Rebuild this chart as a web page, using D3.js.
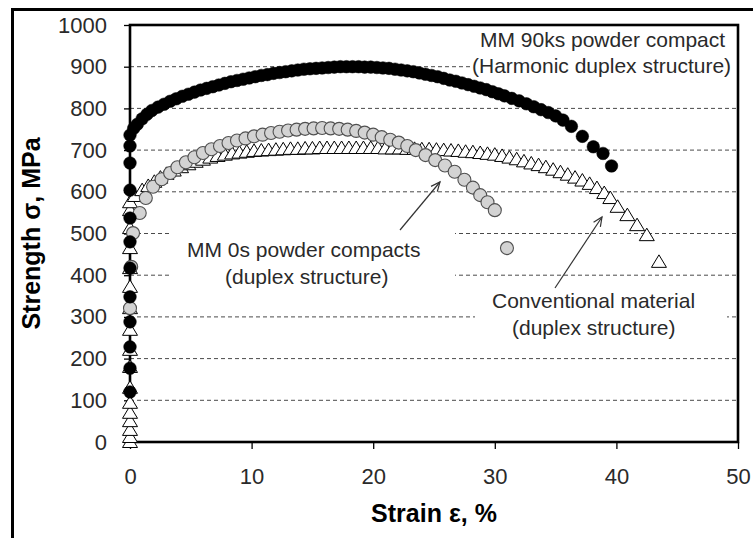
<!DOCTYPE html>
<html><head><meta charset="utf-8">
<script src="https://cdn.jsdelivr.net/npm/d3@7/dist/d3.min.js"></script>
<style>html,body{margin:0;padding:0;background:#fff}svg{display:block}</style>
</head><body>
<script>
// ---- data (strain %, stress MPa) ----
const xTicks = [0, 10, 20, 30, 40, 50];
const yTicks = [0, 100, 200, 300, 400, 500, 600, 700, 800, 900, 1000];

const mm90Strain = [0,0,0,0,0,0,0,0,0,0,0,0,
 0.3,0.6,1.0,1.4,1.8,2.3,2.8,3.3,3.8,4.3,4.8,5.3,5.8,6.3,6.8,7.3,7.8,8.3,8.8,9.3,9.8,10.3,10.8,11.3,11.8,12.3,12.8,13.3,13.8,14.3,14.8,15.3,15.8,16.3,16.8,17.3,17.8,18.3,18.8,19.3,19.8,20.3,20.8,21.3,21.8,22.3,22.8,23.3,23.8,24.3,24.8,25.3,25.8,26.3,26.8,27.3,27.8,28.3,28.8,29.3,29.8,30.3,30.8,
 31.4,32.0,32.6,33.2,33.8,34.4,35.0,35.6,36.3,37.2,38.1,38.9,39.6];
const mm90Stress = [120,177,228,288,348,417,480,537,604,669,710,736,
 752,762,775,786,795,803,810,817,823,829,834,839,844,848,852,856,860,864,867,870,873,876,879,881,884,886,888,890,892,894,895,896,897,898,899,900,900,900,900,899,899,898,897,896,894,892,890,888,885,882,879,876,872,868,865,861,857,853,849,845,840,835,830,
 824,818,811,804,797,790,782,772,757,733,708,692,662];

const mm0Strain = [0,0.1,0.25,0.8,1.3,1.9,2.6,
 3.3,3.9,4.6,5.3,6.0,6.7,7.4,8.1,8.8,9.5,10.2,10.9,11.6,12.3,13.0,13.7,14.4,15.1,15.8,16.5,17.2,17.9,18.6,19.3,20.0,20.7,21.4,22.1,22.8,23.5,
 24.3,25.1,25.9,26.7,27.5,28.2,28.8,29.4,30.0,31.0];
const mm0Stress = [321,420,501,549,585,612,630,
 645,659,671,683,693,702,710,717,723,728,733,737,741,744,747,749,751,752,753,752,751,749,746,742,737,731,725,718,710,700,
 688,676,663,648,629,610,592,575,556,465];

const convStrain = [0,0,0,0,0,0,0,0,0,0,0,0,0,0,0,0,0,0.4,
 1.0,1.5,2.0,2.5,3.0,
 3.6,4.2,4.8,5.4,6.0,6.6,7.2,7.8,8.4,9.0,9.6,10.2,10.8,11.4,12.0,12.6,13.2,13.8,14.4,15.0,15.6,16.2,16.8,17.4,18.0,18.6,19.2,19.8,20.4,21.0,21.6,22.2,22.8,23.4,24.0,24.6,25.2,25.8,26.4,27.0,27.6,28.2,28.8,29.4,30.0,30.6,31.2,31.8,32.4,33.0,33.6,34.2,34.8,35.4,36.0,36.6,37.2,37.8,38.4,39.0,
 39.5,40.1,40.9,41.7,42.5,43.5];
const convStress = [0,12,29,50,70,94,130,180,221,269,321,372,417,465,513,556,575,590,
 604,614,624,634,643,
 651,659,666,672,677,682,686,689,692,694,696,698,699,700,701,702,703,703,704,704,705,705,705,705,705,705,705,705,705,704,704,704,703,703,702,702,701,700,699,698,696,695,693,691,689,686,682,678,673,668,664,659,653,647,641,634,627,619,609,597,
 585,564,544,520,496,432];

const xTitle = "Strain ε, %";
const yTitle = "Strength σ, MPa";

// ---- layout ----
const W = 753, H = 538;
const m = {left:130, top:25, right:738, bottom:442};
const x = d3.scaleLinear().domain([0,50]).range([m.left, m.right]);
const y = d3.scaleLinear().domain([0,1000]).range([m.bottom, m.top]);
const FONT = "'Liberation Sans', Arial, sans-serif";

const svg = d3.select("body").append("svg").attr("width", W).attr("height", H);

// outer frame (cropped)
svg.append("line").attr("x1",11).attr("x2",W).attr("y1",9.5).attr("y2",9.5).attr("stroke","#000").attr("stroke-width",3);
svg.append("line").attr("x1",12.5).attr("x2",12.5).attr("y1",8).attr("y2",H).attr("stroke","#000").attr("stroke-width",3);

// gridlines
svg.append("g").selectAll("line").data(yTicks.filter(d => d > 0 && d < 1000)).join("line")
  .attr("x1", x(0)).attr("x2", x(50)).attr("y1", d => y(d)).attr("y2", d => y(d))
  .attr("stroke","#4a4a4a").attr("stroke-width",1).attr("stroke-dasharray","4,3");

// white label boxes covering gridlines
const boxes = [
  {x0:472, y0:30, x1:737, y1:80},
  {x0:170, y0:226, x1:455, y1:296},
  {x0:475, y0:290, x1:727, y1:345}
];
svg.append("g").selectAll("rect").data(boxes).join("rect")
  .attr("x", d => d.x0).attr("y", d => d.y0).attr("width", d => d.x1-d.x0).attr("height", d => d.y1-d.y0)
  .attr("fill","#fff");

// axes
const yAxis = svg.append("g").attr("transform",`translate(${m.left},0)`)
  .call(d3.axisLeft(y).tickValues(yTicks).tickSize(6).tickSizeOuter(0).tickPadding(17).tickFormat(d3.format("d")));
const xAxis = svg.append("g").attr("transform",`translate(0,${m.bottom})`)
  .call(d3.axisBottom(x).tickValues(xTicks).tickSize(7).tickSizeOuter(0).tickPadding(19).tickFormat(d3.format("d")));
[yAxis, xAxis].forEach(g => {
  g.select(".domain").remove();
  g.selectAll(".tick line").attr("stroke","#000").attr("stroke-width",1.3);
  g.selectAll(".tick text").attr("fill","#2a2a2a").style("font-family",FONT).style("font-size","22px");
});

// plot frame
svg.append("rect").attr("x",m.left).attr("y",m.top).attr("width",m.right-m.left).attr("height",m.bottom-m.top)
  .attr("fill","none").attr("stroke","#000").attr("stroke-width",2.6);

// series
const zip = (a,b) => a.map((v,i) => [v,b[i]]);
const tri = "M0,-7L7.5,5.5L-7.5,5.5Z";
svg.append("g").selectAll("path").data(zip(convStrain, convStress)).join("path")
  .attr("d", tri).attr("transform", d => `translate(${x(d[0])},${y(d[1])})`)
  .attr("fill","#fff").attr("stroke","#000").attr("stroke-width",1);

svg.append("g").selectAll("circle").data(zip(mm0Strain, mm0Stress)).join("circle")
  .attr("cx", d => x(d[0])).attr("cy", d => y(d[1])).attr("r",6.5)
  .attr("fill","#d3d3d3").attr("stroke","#505050").attr("stroke-width",1.1);

svg.append("g").selectAll("circle").data(zip(mm90Strain, mm90Stress)).join("circle")
  .attr("cx", d => x(d[0])).attr("cy", d => y(d[1])).attr("r",6.3)
  .attr("fill","#000").attr("stroke","#000").attr("stroke-width",0.5);

// annotations
const notes = [
  {t:"MM 90ks powder compact", px:480, py:47},
  {t:"(Harmonic duplex structure)", px:472, py:73},
  {t:"MM 0s powder compacts", px:187, py:257},
  {t:"(duplex structure)", px:225, py:284},
  {t:"Conventional material", px:492, py:308},
  {t:"(duplex structure)", px:512, py:335}
];
svg.append("g").selectAll("text").data(notes).join("text")
  .attr("x", d => d.px).attr("y", d => d.py).text(d => d.t)
  .attr("fill","#2a2a2a").style("font-family",FONT).style("font-size","21px");

const arrows = [
  {x1:400, y1:230, x2:440, y2:182},
  {x1:555, y1:288, x2:602, y2:217}
];
const ag = svg.append("g").attr("stroke","#333").attr("stroke-width",1.2).attr("fill","none");
arrows.forEach(a => {
  ag.append("line").attr("x1",a.x1).attr("y1",a.y1).attr("x2",a.x2).attr("y2",a.y2);
  const ang = Math.atan2(a.y2-a.y1, a.x2-a.x1), L = 10, s = 0.42;
  const p1 = [a.x2 - L*Math.cos(ang-s), a.y2 - L*Math.sin(ang-s)];
  const p2 = [a.x2 - L*Math.cos(ang+s), a.y2 - L*Math.sin(ang+s)];
  ag.append("path").attr("d", `M${p1[0]},${p1[1]}L${a.x2},${a.y2}L${p2[0]},${p2[1]}`);
});

// axis titles
svg.append("text").attr("x",(m.left+m.right)/2).attr("y",522).attr("text-anchor","middle")
  .style("font-family",FONT).style("font-size","25px").style("font-weight","bold").attr("fill","#000").text(xTitle);
svg.append("text").attr("transform",`translate(40,${(m.top+m.bottom)/2}) rotate(-90)`).attr("text-anchor","middle")
  .style("font-family",FONT).style("font-size","25px").style("font-weight","bold").attr("fill","#000").text(yTitle);
</script>
</body></html>
